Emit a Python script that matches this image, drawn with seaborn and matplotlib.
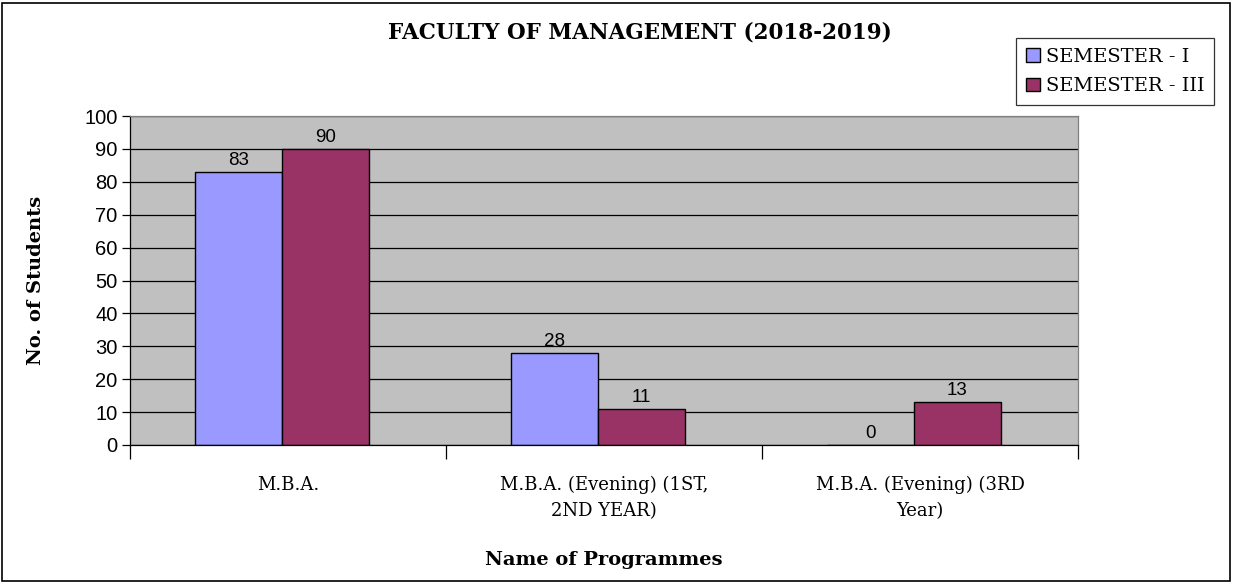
import pandas as pd
import matplotlib.pyplot as plt
import seaborn as sns
from matplotlib.patches import Rectangle

# =====================================================
# DATA
# =====================================================

programmes = [
    "M.B.A.",
    "M.B.A. (Evening) (1ST,\n2ND YEAR)",
    "M.B.A. (Evening) (3RD\nYear)",
]

semesters = ["SEMESTER - I", "SEMESTER - III"]

sem_1 = [83, 28, 0]
sem_3 = [90, 11, 13]

colors = ["#9999FF", "#993366"]

df = pd.DataFrame({
    "Programme": programmes * 2,
    "Semester": [semesters[0]] * 3 + [semesters[1]] * 3,
    "Students": sem_1 + sem_3,
})

# =====================================================
# FIGURE
# =====================================================

sns.set_style("white")
plt.rcParams["text.color"] = "black"
plt.rcParams["axes.labelcolor"] = "black"
plt.rcParams["xtick.color"] = "black"
plt.rcParams["ytick.color"] = "black"

fig = plt.figure(figsize=(12.33, 5.83), dpi=100)

ax = fig.add_axes([130 / 1233, 138 / 583, 948 / 1233, 329 / 583])

sns.barplot(
    data=df,
    x="Programme",
    y="Students",
    hue="Semester",
    palette=colors,
    width=0.55,
    edgecolor="black",
    linewidth=1.0,
    saturation=1,
    legend=False,
    ax=ax,
)

# nudge the pairs slightly left like the original
for patch in ax.patches:
    patch.set_x(patch.get_x() - 0.02)

ax.set_facecolor("#C0C0C0")
ax.set_axisbelow(True)
ax.set_ylim(0, 100)
ax.set_xlim(-0.5, 2.5)

ax.set_yticks(range(0, 101, 10))
ax.yaxis.grid(True, color="black", linewidth=0.9)
ax.xaxis.grid(False)

for side in ["top", "right"]:
    ax.spines[side].set_color("#808080")
    ax.spines[side].set_linewidth(0.9)
for side in ["left", "bottom"]:
    ax.spines[side].set_color("black")
    ax.spines[side].set_linewidth(0.9)

ax.tick_params(axis="y", which="major", length=6, width=0.9,
               labelsize=14.5, left=True, pad=3)
for lbl in ax.get_yticklabels():
    lbl.set_fontfamily("Liberation Sans")

ax.set_xticks([0, 1, 2])
ax.set_xticklabels(programmes, fontfamily="DejaVu Serif", fontsize=13,
                   linespacing=1.6)
ax.tick_params(axis="x", which="major", length=0, pad=22)
ax.set_xticks([-0.5, 0.5, 1.5, 2.5], minor=True)
ax.tick_params(axis="x", which="minor", length=10, width=0.9, bottom=True)

# value labels
for container in ax.containers:
    ax.bar_label(container, fmt="%d", padding=2, fontsize=13.5,
                 fontfamily="Liberation Sans")

ax.set_xlabel("Name of Programmes", fontfamily="DejaVu Serif",
              fontweight="bold", fontsize=14, labelpad=22)
ax.set_ylabel("No. of Students", fontfamily="DejaVu Serif",
              fontweight="bold", fontsize=14, labelpad=28)

fig.text(640 / 1233, 1 - 32 / 583, "FACULTY OF MANAGEMENT (2018-2019)",
         ha="center", va="center", fontfamily="DejaVu Serif",
         fontweight="bold", fontsize=15.5)

# legend
handles = [Rectangle((0, 0), 1, 1, facecolor=c, edgecolor="black")
           for c in colors]
leg = fig.legend(
    handles,
    semesters,
    loc="upper right",
    bbox_to_anchor=(1214 / 1233, 1 - 38 / 583),
    frameon=True,
    fancybox=False,
    prop={"family": "DejaVu Serif", "size": 14},
    handlelength=0.7,
    handleheight=0.7,
    handletextpad=0.3,
    borderpad=0.5,
    labelspacing=0.6,
    borderaxespad=0,
)
leg.get_frame().set_edgecolor("black")
leg.get_frame().set_linewidth(0.9)

# outer border
fig.add_artist(Rectangle((2 / 1233, 2 / 583), 1228 / 1233, 578 / 583,
                         transform=fig.transFigure, fill=False,
                         edgecolor="black", linewidth=1.2))

plt.savefig("out.png", dpi=100)
plt.close()
